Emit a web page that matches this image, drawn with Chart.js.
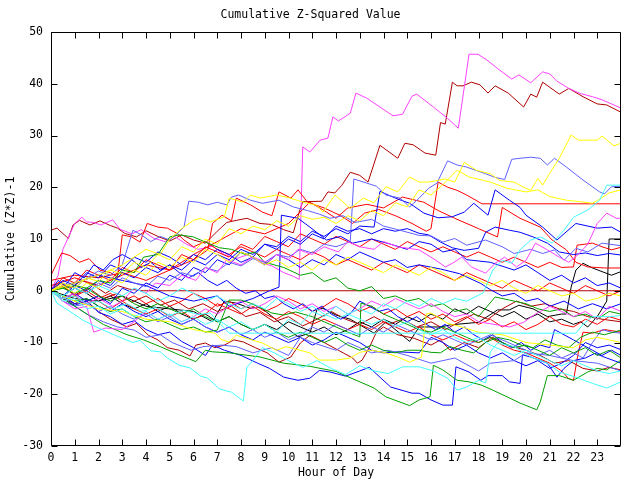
<!DOCTYPE html>
<html>
<head>
<meta charset="utf-8">
<script src="https://cdn.jsdelivr.net/npm/chart.js@4.4.1/dist/chart.umd.min.js"></script>
<style>
  html, body { margin: 0; padding: 0; background: #fff; }
</style>
</head>
<body>
<canvas id="zchart" width="640" height="480"></canvas>
<script>
// tick labels
const hourTicks = [0,1,2,3,4,5,6,7,8,9,10,11,12,13,14,15,16,17,18,19,20,21,22,23];
const valueTicks = [-30,-20,-10,0,10,20,30,40,50];

// series, [hour, cumulative value]
const magentaTop = [[0,0],[0.3,3],[0.5,8],[0.8,11],[1.0,13],[1.3,14.2],[1.5,13.3],[1.8,13.2],[2.1,12.7],[2.6,13.7],[2.9,11.9],[3.4,11],[3.8,11.8],[4.3,10.2],[4.8,9.5],[5.2,10.5],[5.7,9],[6.2,8],[6.8,8.6],[7.3,7],[7.8,6.2],[8.3,7],[8.8,5.5],[9.3,4.8],[9.8,3.5],[10.2,2.8],[10.45,2.2],[10.6,27.8],[10.9,26.8],[11.33,29.1],[11.66,29.5],[11.87,33.6],[12.1,32.8],[12.6,34.3],[12.84,38.2],[13.3,37.2],[13.85,35.5],[14.4,33.8],[14.8,34.1],[15.2,37.6],[15.4,38.0],[16.1,35.5],[16.7,33.3],[17.15,31.4],[17.6,45.7],[17.98,45.7],[18.35,44.6],[18.9,42.6],[19.4,40.9],[19.7,41.7],[20.2,40.2],[20.7,42.3],[21.0,41.9],[21.3,40.5],[21.8,39.1],[22.3,38.1],[22.8,37.5],[23.2,36.9],[24,35.3]];
const magentaMid = [[0,0],[0.5,-1.5],[1,-0.5],[1.4,-2.5],[2,-1.5],[2.6,-3],[3,-2],[3.5,0.5],[4,-0.5],[4.4,1.5],[5,1],[5.5,3],[6.1,2],[6.5,4.5],[7,3.5],[7.4,6],[8,5],[8.5,6.5],[9.1,5.5],[9.5,7],[10,6],[10.4,8],[11,7],[11.5,8.5],[12.1,7.5],[12.5,9.5],[13,8.5],[13.6,8],[14,9.5],[14.6,8.5],[15.5,7.9],[16.2,5.9],[16.6,4.6],[16.9,5.3],[17.3,6.5],[17.7,4.6],[18.3,3.4],[18.7,5.3],[19.1,6.5],[19.6,4.6],[20.0,5.9],[20.4,9.2],[20.9,7.9],[21.4,6.5],[21.8,5.5],[22.2,7],[22.6,9],[23,13],[23.4,15],[23.8,14],[24,14]];
const magentaLow = [[0,0],[0.5,-2],[1,-3.5],[1.5,-3],[1.8,-8],[2.3,-7.2],[3,-7.5],[3.5,-6],[4,-4],[4.5,-5.5],[5,-4.5],[5.5,-6],[6,-5],[6.5,-3.5],[7,-4.5],[7.5,-3],[8,-2],[8.5,-3.5],[9,-2.5],[9.5,-1],[10,-2],[10.5,-3.5],[11,-2.5],[11.5,-4],[12,-3],[12.5,-4.5],[13,-3.5],[13.5,-2],[14,-3],[14.5,-1.5],[15,-2.5],[15.5,-3.5],[16,-2.5],[16.5,-4],[17,-5],[17.5,-4.5],[18,-6],[18.8,-6.6],[19.3,-7],[19.9,-6.1],[20.4,-4.5],[21,-3],[21.5,-4],[22,-5],[22.5,-4],[23,-5.5],[23.5,-3],[24,-4]];
const darkredTop = [[0,11.7],[0.25,12.1],[0.73,10.1],[0.93,12.7],[1.2,13.6],[1.64,12.7],[2.06,13.5],[2.5,12.6],[2.8,12.1],[3.1,11.1],[3.6,10.4],[4.0,11.6],[4.5,10.5],[5.0,9.6],[5.5,10.8],[6.0,9.8],[6.5,9.2],[7.0,11.5],[7.4,13.2],[7.8,13.6],[8.25,14],[8.8,13],[9.3,12.8],[9.8,11.8],[10.2,11.2],[10.45,15.2],[10.6,17.2],[11.4,17.3],[11.66,19.1],[11.95,18.9],[12.25,20.4],[12.6,22.9],[13.0,22.3],[13.35,21.0],[13.85,28.1],[14.6,25.6],[14.9,28.5],[15.25,28.2],[15.75,26.6],[16.2,26.2],[16.4,32.5],[16.6,32.2],[16.9,40.3],[17.1,39.6],[17.35,39.6],[17.7,40.3],[18.06,39.8],[18.4,38.2],[18.7,39.6],[19.25,38.2],[19.9,35.5],[20.2,38.0],[20.45,37.4],[20.7,40.3],[21.4,38.0],[21.8,39.1],[22.4,37.5],[23.0,36.1],[23.4,35.9],[24,34.5]];
const darkredZero = [[0,0],[0.4,1.5],[0.8,0.5],[1.3,2],[1.8,1],[2.3,-0.5],[2.8,1],[3.3,0.3],[3.9,0],[24,0]];
const darkredLow = [[0,0],[0.5,-1.5],[1,-2.5],[1.5,-2],[2,-4],[2.5,-5.5],[2.9,-6.3],[3.2,-7],[3.6,-6.3],[4.1,-8.6],[4.5,-9.5],[4.9,-11],[5.4,-11.5],[5.85,-12.6],[6.1,-10.5],[6.5,-10.1],[6.9,-11],[7.3,-10.5],[7.7,-9.5],[8.1,-9.9],[8.6,-11],[9.1,-12],[9.6,-13.8],[10.1,-12.8],[10.5,-10.1],[10.9,-8.6],[11.3,-9.5],[12.3,-12],[12.7,-13],[12.9,-14],[13.1,-13.4],[13.4,-11],[13.7,-8],[14,-7],[14.6,-8.5],[15.3,-9.2],[16,-10.5],[16.4,-9.5],[16.8,-11.5],[17.4,-10],[18,-11],[18.6,-9],[19.2,-10.5],[20,-11.5],[20.6,-12.5],[21.2,-14],[21.8,-13.5],[22.4,-15],[23,-15.5],[23.5,-14.8],[24,-15.3]];
const darkredMid = [[0,0],[0.5,0.8],[1,-0.8],[1.6,0.5],[2.2,-1.5],[2.8,-0.5],[3.4,-2.2],[4,-1],[4.6,-2.8],[5.2,-1.8],[5.8,-3.5],[6.4,-2.5],[7,-4],[7.6,-3],[8.2,-5],[8.8,-4.2],[9.4,-6],[10,-5],[10.6,-6.8],[11.2,-5.5],[11.8,-4],[12.4,-5.5],[13,-6.5],[13.6,-5],[14.2,-6.5],[14.8,-5.5],[15.4,-7],[16,-6],[16.6,-7.5],[17.2,-6],[17.8,-4.5],[18.4,-5.5],[19,-3.5],[19.6,-2],[20.2,-3],[20.8,-2.5],[21.4,-3.5],[22,-4],[22.6,-5],[23.2,-5.5],[24,-6]];
const yellowTop = [[0,0],[1,1.5],[2,3],[3,5],[4,8],[4.6,7],[5,10],[5.5,12],[6,13.6],[6.3,14],[6.7,13.3],[7.3,14.3],[7.5,17.9],[7.8,17.5],[8.1,17.1],[8.4,18.5],[8.8,17.9],[9.5,18.5],[10,18],[10.7,17],[11.2,16.5],[11.45,15.2],[11.96,18.5],[12.6,15.9],[13.15,17.9],[13.6,17],[14.1,20.1],[14.6,19.1],[15.1,22],[15.5,21],[15.9,21],[16.6,21.6],[17,21],[17.4,24.8],[17.9,23.3],[18.5,22.6],[18.9,21.3],[19.5,21],[19.9,20],[20.2,19.4],[20.5,21.7],[20.7,20.4],[21.0,22.7],[21.4,25.6],[21.9,30.1],[22.2,29.1],[23.0,29.1],[23.2,29.9],[23.7,28],[24,28.5]];
const yellowUpper = [[0,0],[0.5,1.5],[1,0.5],[1.5,2.5],[2,1.8],[2.5,4],[3,3.2],[3.5,5.5],[4,4.5],[4.5,7],[5,6],[5.5,8.5],[6,7.5],[6.5,10],[7,9],[7.5,12],[8,11],[8.5,12.5],[9,11.8],[9.5,13.5],[10,12.5],[10.5,14.5],[11,13.8],[11.5,14.2],[12,13],[12.5,14.5],[13,13.5],[13.5,15.5],[14,14.5],[14.5,17],[15,16.2],[15.5,19.5],[16,18.5],[16.5,20.5],[17.1,23.3],[17.6,22],[18.5,21],[19.2,19.8],[20,19.1],[20.5,19.5],[21,18.2],[21.7,17.5],[22.3,17.2],[22.8,16.9],[23.2,18],[23.5,18.9],[24,19.5]];
const yellowMid = [[0,0],[0.5,1],[1,-0.5],[1.5,1.5],[2,0.5],[2.5,2.5],[3,1.5],[3.5,4],[4,3],[4.5,5.5],[5,4.5],[5.5,6.5],[6,5.5],[6.5,8],[7,7],[7.5,5.5],[8,7.5],[8.5,6.5],[9,5],[9.5,6],[10,4.5],[10.5,5.5],[11,4],[11.5,6],[12,5],[12.5,6.5],[13,5.5],[13.5,4.5],[14,3.5],[14.5,5],[15,4],[15.5,3],[16,4.5],[16.5,3.5],[17,2],[17.5,3],[18,2],[18.5,1],[19,2],[19.5,0.5],[20,-0.5],[20.5,1],[21,0],[21.5,-1],[22,-0.5],[22.5,-2],[23,-1.5],[23.5,-0.5],[24,-1]];
const yellowLow = [[0,0],[1,-2],[2,-3.5],[3,-4],[4,-5.5],[5,-6],[6,-7.5],[6.9,-8.2],[7.2,-9.5],[7.5,-9.9],[7.8,-8.6],[8.9,-10.1],[9.5,-11.5],[9.9,-10.8],[10.9,-12],[11.3,-13.4],[12,-13.4],[12.6,-13],[13,-11.9],[13.5,-11.5],[14.1,-12],[14.6,-12.8],[15.1,-13.8],[15.6,-12.8],[15.8,-4.5],[16,-4.3],[16.7,-6.3],[17.3,-7],[18,-8],[19,-8.5],[20,-10],[21,-10.5],[22,-11],[22.5,-9.5],[23,-9],[24,-10]];
const lightblueTop = [[0,0],[0.5,-1],[1,0.5],[1.5,-0.5],[2,1.5],[2.5,0.5],[3,2.5],[3.5,1.5],[4,0.8],[4.5,2.8],[5,2],[5.5,3.5],[6,2.8],[6.5,4.5],[7,3.8],[7.5,5.5],[8,4.8],[8.5,6.2],[9,5.5],[9.5,7],[10,6.5],[10.5,8],[11,7.3],[11.5,9],[12,8.5],[12.6,9.5],[12.75,21.6],[13.3,20.8],[13.7,20.2],[14.1,18.5],[14.7,17.9],[15.1,16.2],[15.5,17.9],[15.9,19.8],[16.25,20.8],[16.7,25.1],[17.1,24.3],[17.5,23.9],[18.3,22.6],[18.7,21.9],[19.1,21.5],[19.4,25.4],[19.75,25.6],[20.2,25.8],[20.6,25.6],[20.9,24.3],[21.2,25.6],[21.7,23.9],[22.4,21.4],[23.1,19.1],[23.3,18.7],[23.6,20.1],[24,20.2]];
const lightblueUpper = [[0,0],[0.5,1.5],[1,0.5],[1.5,2.5],[2,3.8],[2.5,3],[3,5],[3.45,11.7],[3.8,10.8],[4.2,9.5],[4.6,10.5],[5.0,9.8],[5.3,11],[5.6,12.3],[5.8,17.3],[6.2,17.1],[6.6,16.6],[7.0,17.1],[7.4,16.6],[7.6,18.1],[7.9,18.5],[8.4,17.5],[8.9,16.9],[9.6,17.5],[10.2,16.2],[10.8,15.5],[11.3,14.8],[11.75,14],[12.3,14.5],[12.8,13.2],[13.5,13.8],[14,12.5],[14.6,11.8],[15.5,10.7],[16,10.6],[16.5,9.4],[17,10.1],[17.5,8.8],[18.3,9.8],[19,8.5],[19.5,7.2],[20.2,8],[20.7,7.2],[21.2,7.9],[21.6,5.9],[22.1,8.2],[22.6,7.5],[23.2,9.2],[24,8.7]];
const lightblueLow = [[0,0],[0.5,-2],[1,-3],[1.5,-4.5],[2.2,-6],[2.8,-7],[3.5,-7.6],[4,-9],[4.6,-8.5],[5.1,-10],[5.9,-11.5],[6.4,-10.8],[7.2,-10.5],[7.8,-10.8],[8.5,-12],[9.3,-11],[10,-12.5],[10.5,-9],[11,-10],[12,-11.5],[12.5,-10],[13.5,-12],[14.2,-11.5],[15,-12.5],[16,-14],[17,-13],[18,-15.5],[18.5,-14],[19.5,-13.5],[20,-12],[21,-12.5],[22,-13.5],[23,-14],[24,-15.5]];
const lightblueDown = [[0,0],[0.5,-1.5],[1,-3],[1.5,-2.5],[2,-4],[2.5,-3],[3,-4.5],[3.5,-5.5],[4,-4.5],[4.5,-6],[5,-5],[5.5,-6.5],[6,-5.5],[6.5,-7],[7,-8],[7.5,-7],[8,-8.5],[8.5,-7.5],[9,-9],[9.5,-8],[10,-9.5],[10.5,-8.5],[11,-7],[11.5,-8],[12,-6.5],[12.5,-7.5],[13,-8.5],[13.5,-7],[14,-8],[14.5,-6.5],[15,-7.5],[15.5,-8.5],[16,-9.5],[16.5,-8.5],[17,-9.5],[17.5,-10.5],[18,-9.5],[18.5,-8.5],[19,-9.5],[19.5,-10.5],[20,-11.5],[20.5,-12.5],[21,-11.5],[21.5,-13],[22,-12],[22.4,-13],[22.8,-10],[23.2,-7.5],[23.6,-8],[24,-8.2]];
const redFlat = [[0,2],[1,3],[2,2.5],[3,3.5],[4,2],[5,4],[6,6],[6.6,7.9],[6.8,13],[7.2,14.6],[7.6,13.5],[7.8,17.9],[8.4,16.6],[8.9,15.2],[9.3,14.5],[9.6,19.1],[10.1,17.9],[10.4,19.5],[10.8,17.1],[11.5,16],[12.2,14.5],[12.7,13],[13.2,15],[13.8,15.7],[14.5,14.5],[15.2,13],[15.8,11.5],[16.0,12],[16.3,21],[16.7,20],[17.1,19.4],[17.5,18.5],[18.15,16.8],[24,16.8]];
const redUpper = [[0,1],[1,2.5],[2,1],[3,3],[4,5],[5,4],[6,7],[7,9.5],[8,12],[9,11],[10,13],[10.9,17.1],[11.5,15.5],[12,14],[12.5,16],[13.3,16.7],[14,16],[14.8,18.1],[15.7,17.1],[16.3,15.5],[17,14],[18,12],[18.8,10.4],[19.0,16.1],[19.75,14],[20.6,12.3],[21.1,9.8],[21.7,7.9],[22.1,5.5],[22.6,4.6],[23.3,4.4],[24,4.4]];
const redJump = [[0,0],[0.5,2.5],[1,1.5],[1.5,4],[2,3],[2.5,2],[3,4.5],[3.5,3.5],[4,6],[4.5,5],[5,4],[5.5,7],[6,6],[6.5,8.5],[7,7.5],[7.5,6.5],[8,9],[8.5,8],[9,10.5],[9.5,9.5],[10,8.5],[10.5,11],[11,10],[11.5,9],[12,10.5],[12.5,9.5],[13,8.5],[13.5,10],[14,9],[14.5,8],[15,9.5],[15.5,8.5],[16,7.5],[16.5,8.5],[17,7.5],[17.5,6.5],[18,7.5],[18.5,6.5],[19,5.5],[19.5,6.5],[20,5.5],[20.5,4.5],[21,5.5],[21.5,4.5],[22,4.6],[22.15,8.8],[22.8,9.2],[23.2,8.5],[23.6,7.9],[24,8.4]];
const redLow = [[0,0],[0.5,-1.5],[1,-1],[1.5,-2.5],[2,-2],[2.5,-3.5],[3,-2],[3.5,-3.5],[4,-4.5],[4.5,-3.5],[5,-5],[5.5,-4],[6,-5.5],[6.5,-4.5],[7,-2.5],[7.5,-3.5],[8,-4.5],[8.5,-3],[9,-4.5],[9.5,-5.5],[10,-4],[10.5,-5],[11,-6.5],[11.5,-5.5],[12,-6.5],[12.5,-7.5],[13,-6.5],[13.5,-7.5],[14,-6],[14.5,-7],[15,-8],[15.5,-7],[16,-8.5],[16.5,-9.5],[17,-8.5],[17.5,-9.5],[18,-10],[18.5,-9],[19,-10.5],[19.5,-11.5],[20,-12],[20.5,-13],[21,-14],[21.5,-15.5],[21.8,-17],[22.0,-17.3],[22.2,-12],[22.4,-8],[22.8,-8.2],[23.3,-7.5],[24,-8]];
const redDrift = [[0,0],[0.5,1],[1,-1],[1.5,0],[2,-1.5],[2.5,-0.5],[3,-2],[3.5,-1],[4,-2.5],[4.5,-1.5],[5,-3],[5.5,-2],[6,-0.5],[6.5,-1.5],[7,-3],[7.5,-2],[8,-3.5],[8.5,-2.5],[9,-4],[9.5,-3],[10,-1.5],[10.5,-2.5],[11,-4],[11.5,-3],[12,-1.5],[12.5,-2.5],[13,-4],[13.5,-3],[14,-4.5],[14.5,-3.5],[15,-5],[15.5,-4],[16,-5.5],[16.5,-4.5],[17,-6],[17.5,-5],[18,-6.5],[18.5,-5.5],[19,-7],[19.5,-6],[20,-7.5],[20.5,-6.5],[21,-5],[21.5,-6.5],[22,-7],[22.5,-5.5],[23,-6.5],[23.5,-5],[24,-5.7]];
const redLeft = [[0,3],[0.45,7.3],[0.8,6.8],[1.2,5.5],[1.6,6.2],[2.06,4],[2.5,3.5],[2.8,2.7],[3.0,10.8],[3.4,10.4],[3.75,9.4],[4.05,13],[4.5,12.3],[4.9,12.1],[5.3,11.1],[5.6,9.8],[6,8.5],[6.5,9.5],[7,8],[7.5,7],[8,8.5],[8.5,7.5],[9,6.5],[9.5,8],[10,7],[10.5,6],[11,7.5],[11.5,6.5],[12,5],[12.5,6],[13,5],[13.5,4],[14,5.5],[14.5,4.5],[15,3.5],[15.5,5],[16,4],[16.5,3],[17,2],[17.5,3.5],[18,2.5],[18.5,1.5],[19,0.5],[19.5,2],[20,1],[20.5,0],[21,1.5],[21.5,0.5],[22,-0.5],[22.5,1],[23,0],[23.5,-1],[24,0]];
const blueUpper = [[0,0],[0.5,-1.5],[1,-0.5],[1.5,-2],[2,-1],[2.5,-2.5],[3,0.5],[3.5,-0.5],[4,1.5],[4.5,0.5],[5,3],[5.5,2],[6,4.5],[6.5,3.5],[7,6],[7.5,5],[8,7.5],[8.5,6.5],[9,9],[9.5,8.5],[10,10.5],[10.5,9.5],[11,11.5],[11.5,10.5],[12,12],[12.5,11],[13,12.5],[13.6,12.3],[13.85,19.2],[14.5,17.9],[15.1,16.9],[15.7,15.0],[16.3,14.1],[16.9,14.3],[17.4,15.2],[17.8,16.9],[18.4,14.6],[18.7,19.5],[19.3,17.5],[19.75,16.1],[20.0,14.6],[20.7,12.3],[21.3,9.8],[21.6,11],[22.1,13],[23,12.1],[23.6,12.3],[24,11.3]];
const blueBottom = [[0,0],[0.5,-1.5],[1,-2.8],[1.5,-2],[2,-4.2],[2.5,-5],[3,-6.5],[3.5,-5.8],[4,-7.5],[4.5,-8.5],[5,-8],[5.5,-9.8],[6,-11],[6.5,-12.5],[6.8,-10.5],[7.3,-11.5],[8,-12.5],[8.7,-14],[9.2,-15],[9.8,-16.7],[10.4,-17.3],[10.9,-16.9],[11.3,-15.4],[11.75,-15.7],[12.4,-16.5],[13.0,-15.5],[13.4,-14.8],[14.3,-18.6],[15.2,-19.8],[15.5,-19.8],[16.0,-21.1],[16.5,-22.1],[16.9,-22.1],[17.05,-14.7],[17.6,-15.7],[18.1,-17.3],[18.4,-16.4],[19.0,-16.4],[19.3,-17.6],[19.75,-17.9],[19.85,-12.4],[20.2,-12.8],[20.9,-14],[21.3,-16.7],[21.6,-15],[22.0,-13.5],[22.5,-13],[22.9,-12.1],[23.4,-13],[24,-14]];
const blueRise = [[0,0],[1,1.5],[2,3],[3,2],[4,1],[5,-1],[6,-2],[7,-1],[7.5,-3],[8.5,-1.5],[9.2,0],[9.6,0.7],[9.7,14.6],[10.4,14],[10.9,12.3],[11.6,9.8],[12.2,10.5],[12.7,9.2],[13.5,10],[14.3,9],[15,8],[15.5,9.5],[16,9],[16.5,7.5],[17,8],[17.5,6],[18.5,5.5],[19.5,4],[20,5],[20.5,3.5],[21,2],[21.5,3],[22,1.5],[22.5,2.5],[23,1],[23.5,1.5],[24,0.5]];
const blueMid = [[0,0],[0.5,2],[1,1],[1.5,3.5],[2,2.5],[2.5,5],[3,4],[3.5,6.5],[4,5.5],[4.5,7.5],[5,6.5],[5.5,5],[6,7],[6.5,6],[7,8],[7.5,7],[8,5.5],[8.5,6.5],[9,5],[9.5,7],[10,6],[10.5,4.5],[11,6],[11.5,5],[12,7],[12.5,6],[13,7.5],[13.5,6.5],[14,5.5],[14.5,6],[15,4.5],[15.5,5],[16.4,4.2],[17.2,3.3],[18.1,1.4],[18.5,0.2],[19,-1],[19.5,-0.5],[20,-2],[20.5,-1.5],[21,-3],[21.6,-2],[22.2,-3.5],[22.8,-2.5],[23.4,-3.5],[24,-2.5]];
const blueHigh = [[0,0],[0.5,-1],[1,1],[1.5,0],[2,2],[2.5,1],[3,3.5],[3.5,2.5],[4,4.5],[4.5,3.5],[5,5],[5.5,4],[6,6],[6.5,5],[7,7],[7.5,6],[8,8],[8.5,7],[9,9],[9.5,8],[10,10],[10.5,9],[11,11],[11.5,10],[12,12.5],[12.5,11.5],[13,12],[13.5,11],[14,12],[14.5,11.5],[15,12],[15.5,11.1],[15.9,10.8],[16.4,9.4],[16.9,8.3],[17.4,7.8],[18,8.2],[18.3,11.3],[18.7,12.3],[19.3,11.7],[19.75,11.3],[20.3,10.4],[20.9,9.2],[21.4,7.5],[22,7],[22.5,7.3],[23,6.8],[23.5,7.2],[24,6.9]];
const blueLow = [[0,0],[0.5,-1],[1,-2.5],[1.5,-1.5],[2,-3],[2.5,-4],[3,-2.5],[3.5,-4],[4,-5],[4.5,-4],[5,-5.5],[5.5,-6.5],[6,-5.5],[6.5,-7],[7,-8],[7.5,-7],[8,-8.5],[8.5,-9.5],[9,-8],[9.5,-9],[10,-10],[10.5,-9],[11,-10.5],[11.5,-9.5],[12,-8],[12.5,-9],[13,-10],[13.5,-11.5],[14,-12],[14.6,-11.8],[15.5,-12],[16,-9],[16.5,-10],[17,-11.5],[17.5,-10.5],[18,-12],[18.5,-13],[19,-12],[19.5,-13.5],[20,-14.5],[20.5,-13.5],[21,-15],[21.5,-14],[22,-12.5],[22.5,-10],[23,-11],[23.5,-10.5],[24,-11.4]];
const blueFall = [[0,0],[0.3,2],[0.6,1],[1,3.5],[1.4,2.5],[1.8,5],[2.2,4],[2.6,6],[3,7],[3.4,6],[3.8,4.5],[4.2,5.5],[4.6,4],[5,5],[5.4,3.5],[5.8,2.5],[6.2,3.5],[6.6,2],[7,1],[7.4,2],[7.8,0.5],[8.2,-0.5],[8.6,0],[9,-1.5],[9.4,-1],[9.8,-2.5],[10.2,-3.5],[10.6,-2.5],[11,-4],[11.4,-3],[11.8,-4.5],[12.2,-5.5],[12.6,-4.5],[13.0,-2],[13.4,-3],[13.8,-4],[14.2,-3.5],[14.6,-5],[15,-6],[15.4,-5],[15.8,-6.5],[16.2,-7.5],[16.6,-6.5],[17,-8],[17.4,-7],[17.8,-8.5],[18.2,-9.5],[18.6,-8.5],[19,-10],[19.4,-11],[19.8,-10],[20.2,-11.5],[20.6,-10.5],[21,-11],[21.2,-7.5],[21.6,-8.5],[22,-9.5],[22.4,-10.5],[22.8,-11.5],[23.2,-12.5],[23.6,-11.5],[24,-12.5]];
const cyanRise = [[0,0],[0.5,-2],[1,-1.5],[1.5,-3.5],[2,-3],[2.5,-4.5],[3,-3.5],[3.5,-5],[4,-4],[4.5,-5.5],[5,-4.5],[5.5,-6],[6,-5],[6.5,-6.5],[7,-5.5],[7.5,-7],[8,-6],[8.5,-7.5],[9,-6.5],[9.5,-8],[10,-5.5],[10.5,-6.5],[11,-4],[11.5,-5],[12,-3],[12.5,-4.5],[13,-3.5],[13.5,-4.5],[14,-2.5],[14.5,-3.5],[15,-2],[15.5,-3],[16,-1.5],[16.5,-2.5],[17,-1.5],[17.5,-2],[18.2,-0.4],[18.6,4.0],[19.0,5.9],[19.4,5.3],[19.75,7.9],[20.2,9.8],[20.6,10.4],[21.1,9.2],[21.6,11.7],[22.0,14.2],[22.6,15.6],[23.1,17.5],[23.4,20.4],[24,20.4]];
const cyanFlat = [[0,0],[0.5,-1.5],[1,-1],[1.5,-2.5],[2,-2],[2.6,-3.5],[3.2,-2.5],[3.8,-4],[4.4,-3.2],[5,-4.8],[5.6,-3.8],[6.2,-4.6],[6.7,-4.3],[7.5,-8.2],[22.1,-8.2],[22.4,-6.5],[22.8,-5],[23.5,-5],[24,-4.8]];
const cyanBottom = [[0,0],[0.25,-2.4],[0.8,-4],[1.35,-5.7],[1.9,-7],[2.5,-8.2],[3.0,-9.2],[3.45,-10],[3.75,-9.6],[4.2,-11.6],[4.6,-11.8],[4.9,-13],[5.4,-14.4],[5.85,-14.9],[6.3,-16.5],[6.6,-16.9],[7.1,-19],[7.6,-19.6],[8.1,-21.3],[8.25,-14.7],[8.5,-13.5],[8.9,-11],[9.4,-12],[10,-13.5],[10.6,-14.8],[11.2,-13.5],[11.8,-15],[12.4,-16.2],[13,-14.5],[13.6,-15.5],[14.2,-16],[14.8,-14.7],[15.5,-14.7],[16.1,-15.5],[16.7,-16.9],[17.1,-19.2],[17.5,-18.6],[18,-17.3],[18.3,-17.8],[18.5,-11.8],[18.8,-10.1],[19.5,-10.8],[20.2,-12.8],[20.9,-14],[21.4,-15.7],[22.1,-16.7],[22.8,-17.9],[23.4,-18.8],[24,-17.6]];
const cyanMid = [[0,0],[0.5,-1],[1,0.5],[1.5,-0.5],[2,1],[2.5,0],[3,-1],[3.5,0.5],[4,-0.5],[4.5,-2],[5,-1],[5.5,0.5],[6,-0.5],[6.5,-2],[7,-1],[7.5,-2.5],[8,-3.5],[8.5,-2.5],[9,-3.5],[9.5,-1.5],[10,-2.5],[10.5,-4],[11,-3],[11.5,-4.5],[12,-5.5],[12.5,-4.5],[13,-5.5],[13.5,-6.5],[14,-5.5],[14.5,-7],[15,-6],[15.5,-7.5],[16,-8.5],[16.5,-7.5],[17,-9],[17.5,-10],[18,-9],[18.5,-10.5],[19,-11.5],[19.5,-12.5],[20,-11.5],[20.5,-12.5],[21,-13.5],[21.5,-14.5],[22,-13.5],[22.5,-14.5],[23,-15.5],[23.5,-16],[24,-15.5]];
const greenBottom = [[0,0],[1,-3],[2.2,-6.5],[3.2,-8.5],[3.9,-9.5],[4.6,-10.8],[5.4,-12.4],[6.1,-13.7],[6.5,-11.5],[6.8,-11.8],[7.5,-12],[8.8,-12.8],[9.8,-14],[10.9,-14.6],[12,-15.6],[13.6,-18.8],[14.1,-20.5],[15.1,-22.2],[15.5,-21.1],[15.96,-20.5],[16.1,-14.4],[16.5,-15.3],[17.1,-17.3],[17.6,-17.6],[18.1,-18.2],[18.6,-19.2],[19.2,-20.5],[19.75,-21.7],[20.45,-23],[20.6,-21.5],[20.9,-16.4],[21.4,-16.4],[22,-17.3],[22.6,-15.7],[23,-15],[23.4,-15.3],[24,-13.4]];
const greenMid = [[0,0],[0.5,0.5],[1,1],[1.5,0.5],[2,2],[2.5,1.5],[3,4],[3.5,3.5],[3.9,6.5],[4.5,7],[5,10.4],[5.4,10.8],[6,10.4],[6.6,9.2],[7.1,8.3],[7.6,8],[8.2,7],[8.6,7.5],[9,5.5],[9.8,4.5],[10.5,3],[11,3.5],[11.5,1.8],[12,2.5],[12.5,0.5],[13,0],[13.5,0.8],[14,-1.5],[14.5,-1],[15,-2],[15.5,-1.5],[16,-3],[16.5,-2.5],[17,-4],[17.5,-3.5],[18,-5],[18.7,-1.2],[19.3,-1.8],[20,-2.5],[20.5,-3.5],[21,-4],[21.5,-3.5],[22,-5],[22.5,-4.5],[23,-5.5],[23.5,-4],[24,-4.5]];
const greenJump = [[0,0],[0.5,-1],[1,-2],[1.5,-1.5],[2,-3],[2.5,-4],[3,-3.5],[3.5,-5],[4,-6],[4.5,-5.5],[5,-6.5],[5.5,-7.5],[6,-7],[6.5,-8],[7,-7.6],[7.5,-1.8],[8,-1.8],[8.4,-2.4],[9.3,-4.3],[9.8,-4.7],[10.3,-4.1],[11,-5],[11.5,-6],[12,-7],[12.5,-8],[13,-8.9],[13.05,-2.4],[13.5,-3],[14,-4.5],[14.5,-5.5],[15,-6.5],[15.5,-7.5],[16,-8],[16.5,-7],[17,-8],[17.5,-9],[18,-10],[18.5,-9],[19,-10],[19.5,-11],[20,-10.5],[20.5,-11.5],[21,-12.5],[21.5,-11],[22,-12],[22.5,-11],[23,-12.5],[23.5,-11.5],[24,-13]];
const greenLow = [[0,0],[0.5,0.5],[1,-0.5],[1.5,0.5],[2,-1],[2.5,-2],[3,-1],[3.5,-2.5],[4,-3.5],[4.5,-2.5],[5,-3.5],[5.5,-4.5],[6,-3.5],[6.5,-5],[7,-6],[7.5,-5],[8,-6.5],[8.5,-7.5],[9,-6.5],[9.5,-8],[10,-9],[10.5,-8],[11,-9],[11.5,-10],[12,-9],[12.5,-10.5],[13,-11.5],[13.5,-10.5],[14,-11.5],[14.5,-12],[15,-11.5],[15.5,-11.5],[16,-11.9],[16.4,-12],[16.8,-10.8],[17.3,-11.5],[17.8,-12],[18.3,-10],[18.8,-9],[19.3,-9.5],[19.8,-10.5],[20.3,-11],[20.8,-9.5],[21.3,-10.5],[21.8,-11],[22.3,-9],[22.8,-8],[23.3,-8.5],[24,-7.6]];
const blackMain = [[0,0],[1,-1.5],[2,-2],[3,-1],[4,-3],[5,-3.5],[6,-4],[6.8,-6],[7.3,-2],[7.8,-2.4],[8.4,-3.4],[8.8,-3.1],[9.5,-5.7],[10.4,-8.9],[10.9,-8.2],[11.2,-3.6],[11.45,-3.4],[12,-4.7],[12.6,-5.5],[13.6,-8.2],[14.1,-6],[15.1,-9.8],[15.5,-7],[16.4,-7],[16.8,-6.6],[18,-6.1],[18.8,-3.7],[19.3,-3.7],[19.7,-2.8],[20.3,-3.5],[20.9,-5],[21.5,-4.5],[21.7,-4.5],[21.9,0.7],[22.1,4],[22.4,5.3],[22.8,4.4],[23.2,3.7],[23.6,3],[24,3.7]];
const blackLate = [[0,0],[0.5,-1],[1,0.5],[1.5,-0.5],[2,-2],[2.5,-1],[3,-2.5],[3.5,-3.5],[4,-2.5],[4.5,-4],[5,-3],[5.5,-4.5],[6,-5.5],[6.5,-4.5],[7,-6],[7.5,-5],[8,-6.5],[8.5,-7.5],[9,-6.5],[9.5,-7.5],[10,-6],[10.5,-7],[11,-8],[11.5,-7],[12,-8.5],[12.5,-7.5],[13,-6],[13.5,-7],[14,-5.5],[14.5,-6.5],[15,-5],[15.5,-6],[16,-4.5],[16.5,-5.5],[17,-3.5],[17.5,-4.5],[18,-3],[18.5,-4],[19,-5],[19.5,-4],[20,-5.5],[20.5,-4.5],[21,-6],[21.5,-5.5],[22,-6.5],[22.3,-6],[22.6,-7],[23,-5],[23.4,-2],[23.5,10],[24,10]];

const RED = '#ff0000', GREEN = '#00a000', BLUE = '#0000ff', LBLUE = '#6060ff',
      MAGENTA = '#ff40ff', CYAN = '#40ffff', YELLOW = '#ffff00', BLACK = '#000000', DKRED = '#b00000';

const seriesList = [
  [cyanFlat, CYAN], [cyanMid, CYAN], [cyanBottom, CYAN], [cyanRise, CYAN],
  [yellowLow, YELLOW], [yellowMid, YELLOW], [yellowUpper, YELLOW], [yellowTop, YELLOW],
  [magentaLow, MAGENTA], [magentaMid, MAGENTA],
  [greenLow, GREEN], [greenJump, GREEN], [greenMid, GREEN], [greenBottom, GREEN],
  [lightblueLow, LBLUE], [lightblueDown, LBLUE], [lightblueUpper, LBLUE], [lightblueTop, LBLUE],
  [blueLow, BLUE], [blueFall, BLUE], [blueMid, BLUE], [blueHigh, BLUE], [blueRise, BLUE], [blueBottom, BLUE], [blueUpper, BLUE],
  [redDrift, RED], [redLow, RED], [redLeft, RED], [redJump, RED], [redUpper, RED], [redFlat, RED],
  [darkredLow, DKRED], [darkredMid, DKRED], [darkredZero, DKRED],
  [blackLate, BLACK], [blackMain, BLACK],
  [magentaTop, MAGENTA], [darkredTop, DKRED]
];

const FONT = { family: "'DejaVu Sans Mono', monospace", size: 11.5 };

// frame and inward ticks on all four sides, like the original plot
const framePlugin = {
  id: 'frame',
  afterDraw(chart) {
    const { ctx, chartArea: a, scales } = chart;
    ctx.save();
    ctx.strokeStyle = '#000';
    ctx.lineWidth = 1;
    ctx.beginPath();
    const L = Math.round(a.left) + 0.5, R = Math.round(a.right) - 0.5;
    const T = Math.round(a.top) + 0.5, B = Math.round(a.bottom) - 0.5;
    ctx.rect(L, T, R - L, B - T);
    hourTicks.forEach(h => {
      const px = Math.round(scales.x.getPixelForValue(h)) + 0.5;
      ctx.moveTo(px, B); ctx.lineTo(px, B - 6);
      ctx.moveTo(px, T); ctx.lineTo(px, T + 6);
    });
    valueTicks.forEach(v => {
      const py = Math.round(scales.y.getPixelForValue(v)) + 0.5;
      ctx.moveTo(L, py); ctx.lineTo(L + 6, py);
      ctx.moveTo(R, py); ctx.lineTo(R - 6, py);
    });
    ctx.stroke();
    ctx.restore();
  }
};

new Chart(document.getElementById('zchart'), {
  type: 'line',
  data: {
    datasets: seriesList.map(([pts, col]) => ({
      data: pts,
      borderColor: col,
      backgroundColor: col,
      borderWidth: 1,
      pointRadius: 0,
      tension: 0,
      fill: false
    }))
  },
  options: {
    responsive: false,
    animation: false,
    devicePixelRatio: 1,
    layout: { padding: { left: 0, right: 19, top: 0, bottom: 0 } },
    plugins: {
      legend: { display: false },
      tooltip: { enabled: false },
      title: {
        display: true,
        text: 'Cumulative Z-Squared Value',
        color: '#000',
        font: { ...FONT, weight: 'normal' },
        padding: { top: 8, bottom: 10.2 }
      }
    },
    scales: {
      x: {
        type: 'linear',
        min: 0, max: 24,
        grid: { display: false, drawTicks: false },
        border: { display: false },
        afterBuildTicks: s => { s.ticks = hourTicks.map(v => ({ value: v })); },
        afterFit: s => { s.height = 34; },
        ticks: { color: '#000', font: FONT, padding: 5, maxRotation: 0, autoSkip: false },
        title: { display: true, text: 'Hour of Day', color: '#000', font: FONT, padding: { top: 0, bottom: 0 } }
      },
      y: {
        type: 'linear',
        min: -30, max: 50,
        grid: { display: false, drawTicks: false },
        border: { display: false },
        afterBuildTicks: s => { s.ticks = valueTicks.map(v => ({ value: v })); },
        afterFit: s => { s.width = 51; },
        ticks: { color: '#000', font: FONT, padding: 8 },
        title: { display: true, text: 'Cumulative (Z*Z)-1', color: '#000', font: FONT, padding: { top: 4, bottom: 0 } }
      }
    }
  },
  plugins: [framePlugin]
});
</script>
</body>
</html>
